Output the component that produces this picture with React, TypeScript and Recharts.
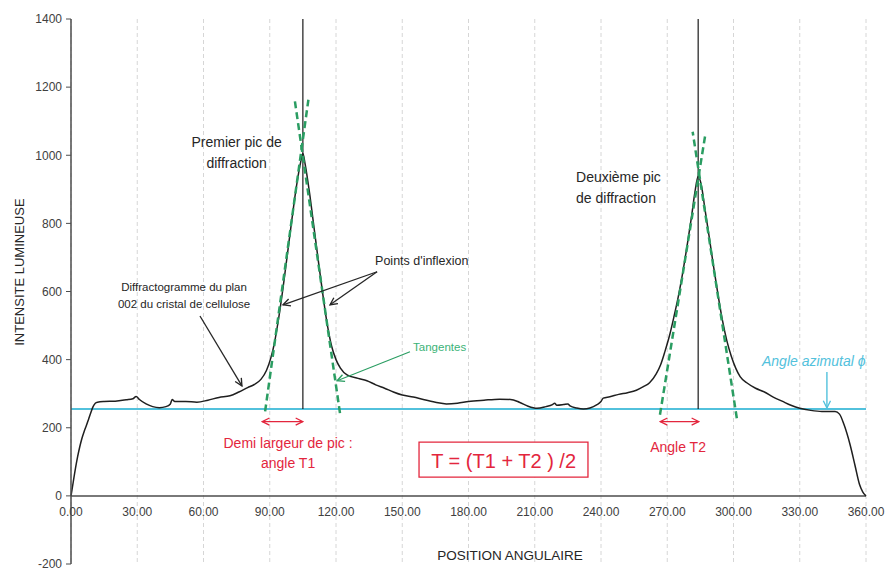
import React from "react"
import {
  ComposedChart,
  Line,
  XAxis,
  YAxis,
  CartesianGrid,
  ReferenceLine,
  ReferenceDot,
  ReferenceArea,
} from "recharts"

// azimuthal intensity profile of the (002) cellulose reflection
const angles = [
  0, 1, 2, 3, 4, 5, 6, 7, 8, 9, 10, 11, 12, 15, 20, 25, 28, 29.5, 31, 34, 37, 40, 43, 45,
  45.8, 47, 52, 57, 62, 67, 72, 76, 80, 83, 86, 88.5, 90.5, 92, 94, 96, 98, 100, 102, 104,
  105, 106, 108, 110, 112, 114, 116, 118, 120, 122, 125, 130, 134, 138, 142, 146, 150, 155,
  160, 165, 170, 175, 180, 187, 194, 199, 203, 207, 211, 215, 218, 219, 220, 223, 225, 226,
  229, 232, 235, 238, 240, 241, 244, 248, 252, 256, 259, 262, 265, 267, 269, 271, 273, 275,
  277, 279, 281, 282.5, 284, 285.5, 287, 289, 291, 293, 295, 297, 299, 301, 303, 306, 310,
  314, 318, 322, 326, 330, 335, 340, 346, 348, 350, 352.8, 355, 357, 358.5, 360,
]
const intensity = [
  0, 40, 80, 115, 145, 170, 190, 207, 226, 245, 262, 272, 275, 277, 278, 282, 285, 292, 283,
  270, 262, 259, 262, 270, 283, 277, 277, 275, 281, 289, 294, 305, 318, 327, 342, 368, 405,
  445, 520, 610, 710, 810, 905, 980, 1005, 975, 890, 790, 690, 593, 505, 440, 400, 375, 355,
  345, 338, 326, 316, 305, 296, 290, 282, 275, 270, 272, 277, 281, 284, 283, 275, 263, 257,
  262, 268, 272, 266, 268, 270, 264, 258, 255, 258, 267, 277, 287, 291, 298, 303, 310, 320,
  332, 358, 385, 425, 470, 525, 585, 655, 735, 820, 890, 938, 910, 845, 760, 672, 590, 515,
  455, 410, 375, 350, 332, 316, 305, 290, 278, 266, 257, 251, 248, 248, 240, 210, 150, 90,
  35, 12, 0,
]

const xTicks = [0, 30, 60, 90, 120, 150, 180, 210, 240, 270, 300, 330, 360]
const yTicks = [-200, 0, 200, 400, 600, 800, 1000, 1200, 1400]

// azimuthal baseline and the two peaks
const baseline = 255
const peakAngles = [105, 284]
// tangents through the inflection points, crossing above each peak: [x1, y1, x2, y2]
const tangents = [
  [87.9, 248, 107.5, 1163],
  [121.8, 243, 101.4, 1158],
  [266.7, 238, 287.1, 1055],
  [301.5, 228, 281.5, 1069],
]
// half-width arrows T1 and T2
const halfWidths = [
  [86.6, 105],
  [266.8, 284.3],
]
const halfWidthLevel = 218

const rows = angles.map((a, i) => ({ angle: a, value: intensity[i] }))

const W = 886
const H = 569
const M = { top: 19, right: 20, bottom: 5, left: 11 }

const FONT = "'Liberation Sans', Arial, sans-serif"
const RED = "#e3263d"
const GREEN = "#2a9d62"
const CYAN = "#52c1dc"
const INK = "#262626"

type NoteOpts = {
  size?: number
  color?: string
  anchor?: "start" | "middle" | "end"
  italic?: boolean
  lineH?: number
  rotate?: boolean
}

function note(key: string, x: number, y: number, lines: string[], o: NoteOpts = {}) {
  const size = o.size ?? 13
  return (
    <ReferenceDot
      key={key}
      x={x}
      y={y}
      r={0}
      ifOverflow="visible"
      shape={(p: any) => (
        <text
          x={p.cx}
          y={p.cy}
          fontSize={size}
          fontFamily={FONT}
          fontStyle={o.italic ? "italic" : "normal"}
          fill={o.color ?? INK}
          textAnchor={o.anchor ?? "middle"}
          transform={o.rotate ? `rotate(-90 ${p.cx} ${p.cy})` : undefined}
        >
          {lines.map((l, i) => (
            <tspan key={i} x={p.cx} dy={i === 0 ? "0.35em" : o.lineH ?? size * 1.4}>
              {l}
            </tspan>
          ))}
        </text>
      )}
    />
  )
}

function arrow(key: string, seg: number[], color: string, marker: string, both = false, width = 1.3) {
  return (
    <ReferenceLine
      key={key}
      segment={[
        { x: seg[0], y: seg[1] },
        { x: seg[2], y: seg[3] },
      ]}
      ifOverflow="visible"
      shape={(p: any) => (
        <line
          x1={p.x1}
          y1={p.y1}
          x2={p.x2}
          y2={p.y2}
          stroke={color}
          strokeWidth={width}
          markerEnd={`url(#${marker})`}
          markerStart={both ? `url(#${marker})` : undefined}
        />
      )}
    />
  )
}

const Marker = ({ id, color }: { id: string; color: string }) => (
  <marker
    id={id}
    viewBox="0 0 10 10"
    refX="9"
    refY="5"
    markerWidth="9"
    markerHeight="9"
    markerUnits="userSpaceOnUse"
    orient="auto-start-reverse"
  >
    <path d="M1,1 L9,5 L1,9" fill="none" stroke={color} strokeWidth="1.5" />
  </marker>
)

// the axis keeps its ticks for the grid; labels are drawn under the zero line instead
const NoTick = () => <g />

export default function App() {
  return (
    <div style={{ position: "absolute", left: 0, top: 0, width: W, height: H, background: "#fff" }}>
      <svg width={0} height={0} style={{ position: "absolute" }}>
        <defs>
          <Marker id="mk-ink" color={INK} />
          <Marker id="mk-red" color={RED} />
          <Marker id="mk-green" color={GREEN} />
          <Marker id="mk-cyan" color={CYAN} />
        </defs>
      </svg>
      <ComposedChart width={W} height={H} data={rows} margin={M}>
        <CartesianGrid horizontal={false} stroke="#d6d6d6" strokeDasharray="4 3" />
        <XAxis
          dataKey="angle"
          type="number"
          domain={[0, 360]}
          ticks={xTicks}
          height={0}
          axisLine={false}
          tickLine={false}
          tick={<NoTick />}
          interval={0}
        />
        <YAxis
          type="number"
          domain={[-200, 1400]}
          ticks={yTicks}
          interval={0}
          axisLine={{ stroke: "#4d4d4d", strokeWidth: 1.5 }}
          tickLine={{ stroke: "#4d4d4d" }}
          tickSize={5}
          tickMargin={4}
          tick={{ fontSize: 12, fontFamily: FONT, fill: "#404040" }}
        />
        <ReferenceLine y={0} stroke="#4d4d4d" strokeWidth={1.5} />
        <ReferenceLine y={baseline} stroke={CYAN} strokeWidth={2} />
        {peakAngles.map((a, i) => (
          <ReferenceLine
            key={`pk${i}`}
            segment={[
              { x: a, y: baseline },
              { x: a, y: 1400 },
            ]}
            stroke="#1a1a1a"
            strokeWidth={1.2}
          />
        ))}
        <ReferenceArea x1={157.6} x2={234.1} y1={55} y2={158} fill="#fff" fillOpacity={1} stroke={RED} strokeWidth={1.3} />
        <Line
          dataKey="value"
          type="monotone"
          stroke="#1f1f1f"
          strokeWidth={1.5}
          dot={false}
          isAnimationActive={false}
        />
        {tangents.map((t, i) => (
          <ReferenceLine
            key={`tg${i}`}
            segment={[
              { x: t[0], y: t[1] },
              { x: t[2], y: t[3] },
            ]}
            stroke={GREEN}
            strokeWidth={2.5}
            strokeDasharray="7 4"
            ifOverflow="visible"
          />
        ))}
        {halfWidths.map((h, i) =>
          arrow(`hw${i}`, [h[0], halfWidthLevel, h[1], halfWidthLevel], RED, "mk-red", true, 1.4)
        )}
        {arrow("a-diff", [58.4, 528, 77.4, 323], INK, "mk-ink")}
        {arrow("a-inf1", [138.6, 658, 96, 561], INK, "mk-ink")}
        {arrow("a-inf2", [138.6, 658, 117.3, 561], INK, "mk-ink")}
        {arrow("a-tan", [153.5, 423, 120.5, 338], GREEN, "mk-green", false, 1.1)}
        {arrow("a-azi", [342.3, 364, 342.3, 258], CYAN, "mk-cyan", false, 1.4)}

        {xTicks.map((t) => note(`xt${t}`, t, -47, [t.toFixed(2)], { size: 12, color: "#404040" }))}

        {note("n1", 75, 1040, ["Premier pic de", "diffraction"], { size: 14, lineH: 21 })}
        {note("n2", 228.7, 936, ["Deuxième pic", "de diffraction"], { size: 14, lineH: 21, anchor: "start" })}
        {note("n3", 51.2, 613, ["Diffractogramme du plan", "002 du cristal de cellulose"], { size: 11.5, lineH: 17 })}
        {note("n4", 137.7, 690, ["Points d'inflexion"], { size: 12.5, anchor: "start" })}
        {note("n5", 154.9, 437, ["Tangentes"], { size: 11.5, anchor: "start", color: "#3bb377" })}
        {note("n6", 312.9, 396, ["Angle azimutal ϕ"], { size: 14, anchor: "start", italic: true, color: CYAN })}
        {note("n7", 98.3, 156, ["Demi largeur de pic :", "angle T1"], { size: 14, lineH: 20, color: RED })}
        {note("n8", 274.9, 144, ["Angle T2"], { size: 14, color: RED })}
        {note("n9", 195.9, 103, ["T = (T1 + T2 ) /2"], { size: 20, color: RED })}
        {note("n10", 198.8, -173, ["POSITION ANGULAIRE"], { size: 13.5 })}
        {note("n11", -23.3, 657, ["INTENSITE LUMINEUSE"], { size: 13, rotate: true })}
      </ComposedChart>
    </div>
  )
}
